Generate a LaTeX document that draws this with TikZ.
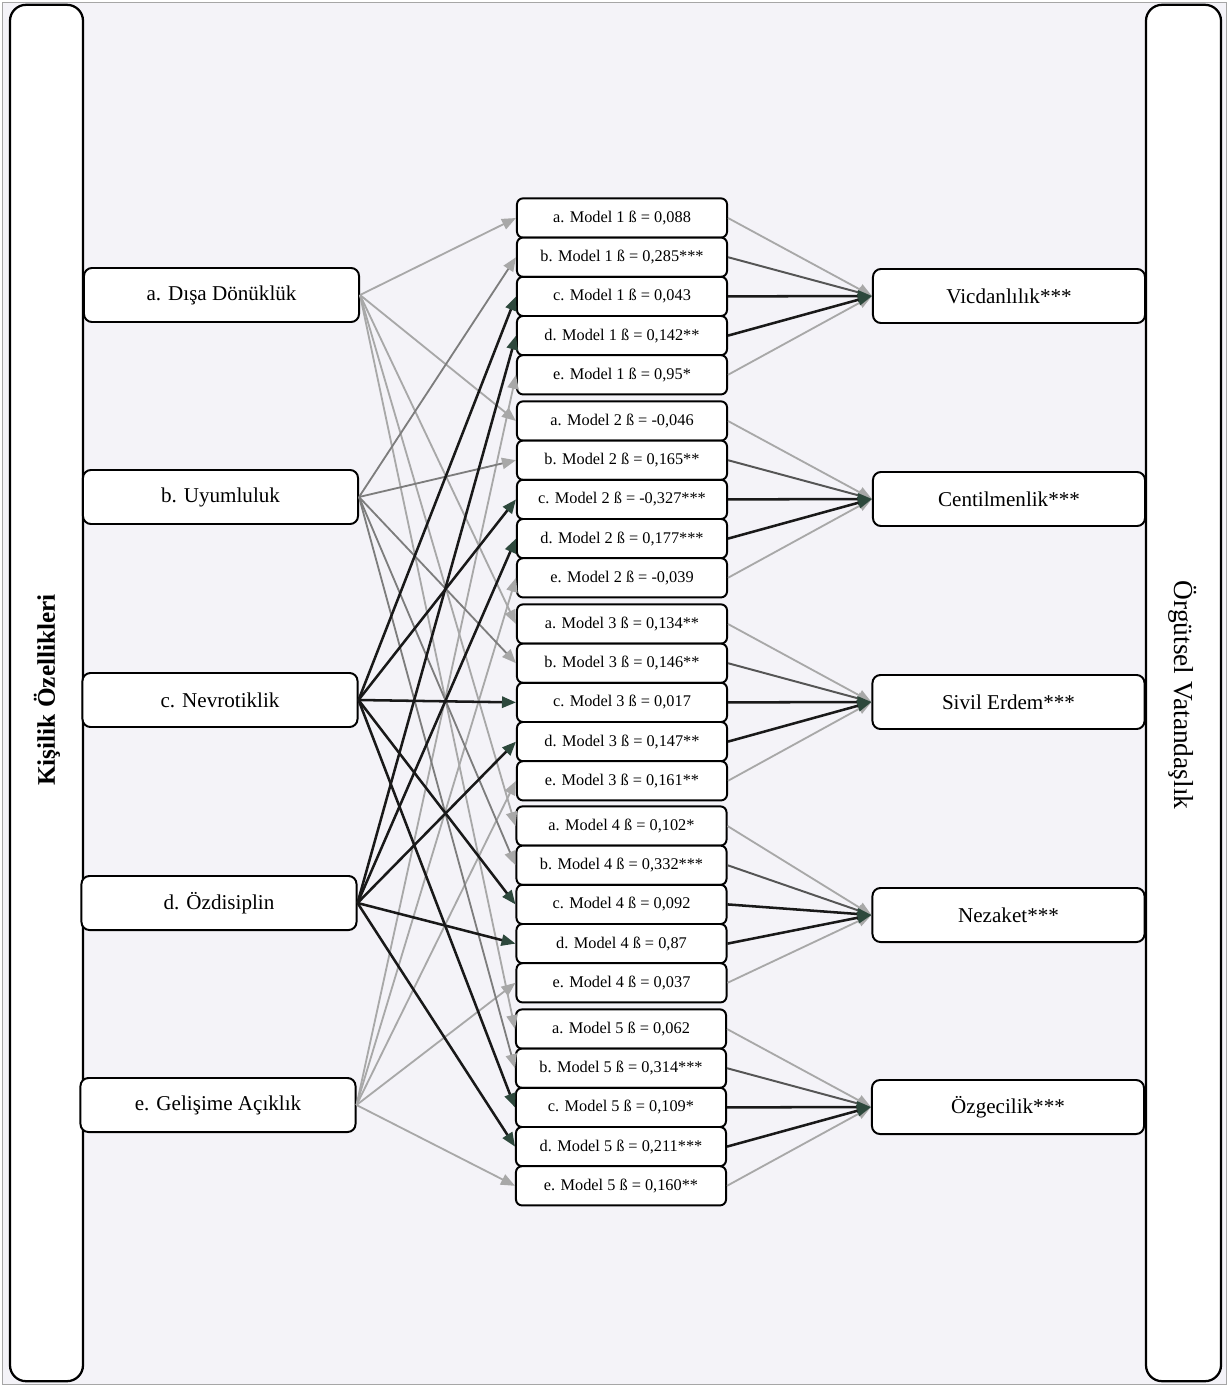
\documentclass[tikz,border=0pt]{standalone}
\usepackage{fontspec}
\setmainfont{Liberation Serif}
\usetikzlibrary{arrows.meta}

\definecolor{paper}{RGB}{244,243,248}
\definecolor{lightline}{RGB}{168,168,168}
\definecolor{midline}{RGB}{125,125,125}
\definecolor{greyline}{RGB}{85,85,85}
\definecolor{darkline}{RGB}{25,25,25}
\definecolor{darkhead}{RGB}{45,72,60}

\begin{document}
\begin{tikzpicture}[x=0.025cm,y=-0.025cm,
    side box/.style={draw,line width=1.6pt,fill=white,rounded corners=0.4cm,
                     minimum height=34.4cm,inner sep=0pt},
    trait node/.style={draw,line width=1.4pt,fill=white,rounded corners=0.2cm,
                       minimum width=6.875cm,minimum height=1.35cm,
                       font=\fontsize{15}{18}\selectfont},
    model node/.style={draw,line width=1.4pt,fill=white,rounded corners=0.15cm,
                       minimum width=5.25cm,minimum height=0.98cm,
                       font=\fontsize{11.6}{13}\selectfont},
    result node/.style={draw,line width=1.4pt,fill=white,rounded corners=0.2cm,
                        minimum width=6.8cm,minimum height=1.35cm,
                        font=\fontsize{15}{18}\selectfont},
    light arrow/.style={line width=1.3pt,lightline,
                        -{Triangle[length=0.35cm,width=0.28cm]}},
    mid arrow/.style={line width=1.3pt,midline,
                      -{Triangle[length=0.35cm,width=0.28cm,color=lightline]}},
    grey arrow/.style={line width=1.4pt,greyline,
                       -{Triangle[length=0.35cm,width=0.28cm,color=lightline]}},
    dark arrow/.style={line width=1.8pt,darkline,
                       -{Triangle[length=0.35cm,width=0.28cm,color=darkhead]}}
   ]
   \useasboundingbox (0,0) rectangle (1228,1386);
   \fill[paper,draw=gray!70,line width=0.6pt] (2,2) rectangle (1226,1384);

   % side frames
   \node[side box,minimum width=1.825cm] (left) at (46.5,693) {};
   \node[side box,minimum width=1.875cm] (right) at (1183.5,693) {};
   \node[rotate=90,font=\fontsize{18}{20}\selectfont\bfseries] (lefttitle) at (47,690) {Kişilik Özellikleri};
   \node[rotate=-90,font=\fontsize{19.5}{21}\selectfont] (righttitle) at (1183,695) {Örgütsel Vatandaşlık};

   % traits
   \node[trait node] (A) at (221.5,295) {a. Dışa Dönüklük};
   \node[trait node] (B) at (220.5,497) {b. Uyumluluk};
   \node[trait node] (C) at (220,700) {c. Nevrotiklik};
   \node[trait node] (D) at (219,903) {d. Özdisiplin};
   \node[trait node] (E) at (218,1105) {e. Gelişime Açıklık};

   % models
   \node[model node] (a1) at (622,218) {a. Model 1 ß = 0,088};
   \node[model node] (b1) at (622,257.2) {b. Model 1 ß = 0,285***};
   \node[model node] (c1) at (622,296.4) {c. Model 1 ß = 0,043};
   \node[model node] (d1) at (622,335.6) {d. Model 1 ß = 0,142**};
   \node[model node] (e1) at (622,374.8) {e. Model 1 ß = 0,95*};

   \node[model node] (a2) at (622,421) {a. Model 2 ß = -0,046};
   \node[model node] (b2) at (622,460.2) {b. Model 2 ß = 0,165**};
   \node[model node] (c2) at (622,499.4) {c. Model 2 ß = -0,327***};
   \node[model node] (d2) at (622,538.6) {d. Model 2 ß = 0,177***};
   \node[model node] (e2) at (622,577.8) {e. Model 2 ß = -0,039};

   \node[model node] (a3) at (622,624) {a. Model 3 ß = 0,134**};
   \node[model node] (b3) at (622,663.2) {b. Model 3 ß = 0,146**};
   \node[model node] (c3) at (622,702.4) {c. Model 3 ß = 0,017};
   \node[model node] (d3) at (622,741.6) {d. Model 3 ß = 0,147**};
   \node[model node] (e3) at (622,780.8) {e. Model 3 ß = 0,161**};

   \node[model node] (a4) at (621.5,826) {a. Model 4 ß = 0,102*};
   \node[model node] (b4) at (621.5,865.2) {b. Model 4 ß = 0,332***};
   \node[model node] (c4) at (621.5,904.4) {c. Model 4 ß = 0,092};
   \node[model node] (d4) at (621.5,943.6) {d. Model 4 ß = 0,87};
   \node[model node] (e4) at (621.5,982.8) {e. Model 4 ß = 0,037};

   \node[model node] (a5) at (621,1029) {a. Model 5 ß = 0,062};
   \node[model node] (b5) at (621,1068.2) {b. Model 5 ß = 0,314***};
   \node[model node] (c5) at (621,1107.4) {c. Model 5 ß = 0,109*};
   \node[model node] (d5) at (621,1146.6) {d. Model 5 ß = 0,211***};
   \node[model node] (e5) at (621,1185.8) {e. Model 5 ß = 0,160**};

   % outcomes
   \node[result node] (V) at (1009,296) {Vicdanlılık***};
   \node[result node] (Ce) at (1009,499) {Centilmenlik***};
   \node[result node] (S) at (1008.5,702) {Sivil Erdem***};
   \node[result node] (N) at (1008.5,915) {Nezaket***};
   \node[result node] (O) at (1008,1107) {Özgecilik***};

   % traits to models
   \path[light arrow]
     (A.east) edge (a1.west)
     (A.east) edge (a2.west)
     (A.east) edge (a3.west)
     (A.east) edge (a4.west)
     (A.east) edge (a5.west)
     (E.east) edge (e1.west)
     (E.east) edge (e2.west)
     (E.east) edge (e3.west)
     (E.east) edge (e4.west)
     (E.east) edge (e5.west);
   \path[mid arrow]
     (B.east) edge (b1.west)
     (B.east) edge (b2.west)
     (B.east) edge (b3.west)
     (B.east) edge (b4.west)
     (B.east) edge (b5.west);
   \path[dark arrow]
     (C.east) edge (c1.west)
     (C.east) edge (c2.west)
     (C.east) edge (c3.west)
     (C.east) edge (c4.west)
     (C.east) edge (c5.west)
     (D.east) edge (d1.west)
     (D.east) edge (d2.west)
     (D.east) edge (d3.west)
     (D.east) edge (d4.west)
     (D.east) edge (d5.west);

   % models to outcomes
   \path[light arrow]
     (a1.east) edge (V.west)  (e1.east) edge (V.west)
     (a2.east) edge (Ce.west) (e2.east) edge (Ce.west)
     (a3.east) edge (S.west)  (e3.east) edge (S.west)
     (a4.east) edge (N.west)  (e4.east) edge (N.west)
     (a5.east) edge (O.west)  (e5.east) edge (O.west);
   \path[grey arrow]
     (b1.east) edge (V.west)
     (b2.east) edge (Ce.west)
     (b3.east) edge (S.west)
     (b4.east) edge (N.west)
     (b5.east) edge (O.west);
   \path[dark arrow]
     (c1.east) edge (V.west)  (d1.east) edge (V.west)
     (c2.east) edge (Ce.west) (d2.east) edge (Ce.west)
     (c3.east) edge (S.west)  (d3.east) edge (S.west)
     (c4.east) edge (N.west)  (d4.east) edge (N.west)
     (c5.east) edge (O.west)  (d5.east) edge (O.west);
\end{tikzpicture}
\end{document}
